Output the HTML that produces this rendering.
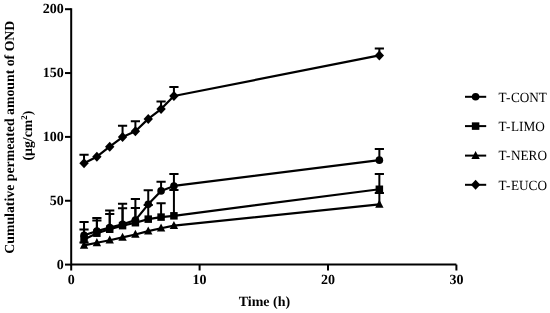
<!DOCTYPE html>
<html><head><meta charset="utf-8"><style>
html,body{margin:0;padding:0;background:#fff;width:550px;height:313px;overflow:hidden;}
svg{display:block;will-change:transform;} text{text-rendering:geometricPrecision;}
</style></head><body><svg width="550" height="313" viewBox="0 0 550 313"><g stroke="#000" stroke-width="2.0" fill="none"><path d="M71.20 8.2V264.60H456.40" /><path d="M65 264.60H71.20"/><path d="M65 200.75H71.20"/><path d="M65 136.90H71.20"/><path d="M65 73.05H71.20"/><path d="M65 9.20H71.20"/><path d="M71.20 264.60V270.5"/><path d="M199.60 264.60V270.5"/><path d="M328.00 264.60V270.5"/><path d="M456.40 264.60V270.5"/></g><g font-family="Liberation Serif, serif" font-weight="bold" font-size="14" fill="#000"><text x="63.8" y="268.80" text-anchor="end">0</text><text x="63.8" y="204.95" text-anchor="end">50</text><text x="63.8" y="141.10" text-anchor="end">100</text><text x="63.8" y="77.25" text-anchor="end">150</text><text x="63.8" y="13.40" text-anchor="end">200</text><text x="71.20" y="284.4" text-anchor="middle">0</text><text x="199.60" y="284.4" text-anchor="middle">10</text><text x="328.00" y="284.4" text-anchor="middle">20</text><text x="456.40" y="284.4" text-anchor="middle">30</text><text x="264.40" y="306.2" text-anchor="middle">Time (h)</text><g transform="translate(14.2 137.2) rotate(-90)"><text x="0" y="0" text-anchor="middle" font-size="13.8">Cumulative permeated amount of OND</text></g><g transform="translate(31.8 135.6) rotate(-90)"><text x="0" y="0" text-anchor="middle" font-size="13.8">(µg/cm<tspan font-size="9" dy="-5">2</tspan><tspan dy="5">)</tspan></text></g></g><polyline points="84.04,245.45 96.88,242.76 109.72,240.21 122.56,237.40 135.40,234.46 148.24,231.14 161.08,228.21 173.92,225.65 379.36,204.45" fill="none" stroke="#000" stroke-width="2.2" stroke-linejoin="round"/><path d="M84.04 245.45V242.51M79.44 242.51H88.64M379.36 204.45V193.09M374.76 193.09H383.96" stroke="#000" stroke-width="2.0" fill="none"/><g fill="#000"><path d="M84.04 240.75L88.24 248.85L79.84 248.85Z"/><path d="M96.88 238.06L101.08 246.16L92.68 246.16Z"/><path d="M109.72 235.51L113.92 243.61L105.52 243.61Z"/><path d="M122.56 232.70L126.76 240.80L118.36 240.80Z"/><path d="M135.40 229.76L139.60 237.86L131.20 237.86Z"/><path d="M148.24 226.44L152.44 234.54L144.04 234.54Z"/><path d="M161.08 223.51L165.28 231.61L156.88 231.61Z"/><path d="M173.92 220.95L178.12 229.05L169.72 229.05Z"/><path d="M379.36 199.75L383.56 207.85L375.16 207.85Z"/></g><polyline points="84.04,239.57 96.88,233.19 109.72,229.23 122.56,225.65 135.40,222.71 148.24,219.14 161.08,217.10 173.92,215.82 379.36,189.26" fill="none" stroke="#000" stroke-width="2.2" stroke-linejoin="round"/><path d="M84.04 239.57V229.61M79.44 229.61H88.64M96.88 233.19V220.42M92.28 220.42H101.48M109.72 229.23V213.90M105.12 213.90H114.32M122.56 225.65V208.28M117.96 208.28H127.16M135.40 222.71V208.03M130.80 208.03H140.00M148.24 219.14V205.09M143.64 205.09H152.84M161.08 217.10V203.18M156.48 203.18H165.68M173.92 215.82V189.90M169.32 189.90H178.52M379.36 189.26V174.06M374.76 174.06H383.96" stroke="#000" stroke-width="2.0" fill="none"/><g fill="#000"><rect x="80.29" y="235.82" width="7.50" height="7.50"/><rect x="93.13" y="229.44" width="7.50" height="7.50"/><rect x="105.97" y="225.48" width="7.50" height="7.50"/><rect x="118.81" y="221.90" width="7.50" height="7.50"/><rect x="131.65" y="218.96" width="7.50" height="7.50"/><rect x="144.49" y="215.39" width="7.50" height="7.50"/><rect x="157.33" y="213.35" width="7.50" height="7.50"/><rect x="170.17" y="212.07" width="7.50" height="7.50"/><rect x="375.61" y="185.51" width="7.50" height="7.50"/></g><polyline points="84.04,235.23 96.88,231.14 109.72,227.57 122.56,224.25 135.40,220.16 148.24,204.33 161.08,190.92 173.92,185.94 379.36,160.14" fill="none" stroke="#000" stroke-width="2.2" stroke-linejoin="round"/><path d="M84.04 235.23V222.08M79.44 222.08H88.64M96.88 231.14V217.99M92.28 217.99H101.48M109.72 227.57V210.58M105.12 210.58H114.32M122.56 224.25V203.81M117.96 203.81H127.16M135.40 220.16V198.96M130.80 198.96H140.00M148.24 204.33V190.28M143.64 190.28H152.84M161.08 190.92V181.72M156.48 181.72H165.68M173.92 185.94V174.06M169.32 174.06H178.52M379.36 160.14V148.90M374.76 148.90H383.96" stroke="#000" stroke-width="2.0" fill="none"/><g fill="#000"><circle cx="84.04" cy="235.23" r="3.8"/><circle cx="96.88" cy="231.14" r="3.8"/><circle cx="109.72" cy="227.57" r="3.8"/><circle cx="122.56" cy="224.25" r="3.8"/><circle cx="135.40" cy="220.16" r="3.8"/><circle cx="148.24" cy="204.33" r="3.8"/><circle cx="161.08" cy="190.92" r="3.8"/><circle cx="173.92" cy="185.94" r="3.8"/><circle cx="379.36" cy="160.14" r="3.8"/></g><polyline points="84.04,163.33 96.88,156.69 109.72,146.73 122.56,137.03 135.40,131.28 148.24,118.89 161.08,109.06 173.92,96.04 379.36,55.43" fill="none" stroke="#000" stroke-width="2.2" stroke-linejoin="round"/><path d="M84.04 163.33V154.78M79.44 154.78H88.64M122.56 137.03V125.79M117.96 125.79H127.16M135.40 131.28V121.32M130.80 121.32H140.00M161.08 109.06V101.53M156.48 101.53H165.68M173.92 96.04V87.10M169.32 87.10H178.52M379.36 55.43V48.40M374.76 48.40H383.96" stroke="#000" stroke-width="2.0" fill="none"/><g fill="#000"><path d="M84.04 158.33L88.74 163.33L84.04 168.33L79.34 163.33Z"/><path d="M96.88 151.69L101.58 156.69L96.88 161.69L92.18 156.69Z"/><path d="M109.72 141.73L114.42 146.73L109.72 151.73L105.02 146.73Z"/><path d="M122.56 132.03L127.26 137.03L122.56 142.03L117.86 137.03Z"/><path d="M135.40 126.28L140.10 131.28L135.40 136.28L130.70 131.28Z"/><path d="M148.24 113.89L152.94 118.89L148.24 123.89L143.54 118.89Z"/><path d="M161.08 104.06L165.78 109.06L161.08 114.06L156.38 109.06Z"/><path d="M173.92 91.04L178.62 96.04L173.92 101.04L169.22 96.04Z"/><path d="M379.36 50.43L384.06 55.43L379.36 60.43L374.66 55.43Z"/></g><path d="M465 96.8H486.2" stroke="#000" stroke-width="2.0"/><g fill="#000"><circle cx="475.60" cy="96.80" r="3.8"/></g><text transform="translate(498.4 101.6) scale(0.945 1)" font-family="Liberation Serif, serif" font-size="14" fill="#000">T<tspan dx="0.7">-</tspan><tspan dx="0.6">CONT</tspan></text><path d="M465 126.1H486.2" stroke="#000" stroke-width="2.0"/><g fill="#000"><rect x="471.85" y="122.35" width="7.50" height="7.50"/></g><text transform="translate(498.4 130.9) scale(0.945 1)" font-family="Liberation Serif, serif" font-size="14" fill="#000">T<tspan dx="0.7">-</tspan><tspan dx="0.6">LIMO</tspan></text><path d="M465 155.6H486.2" stroke="#000" stroke-width="2.0"/><g fill="#000"><path d="M475.60 150.90L479.80 159.00L471.40 159.00Z"/></g><text transform="translate(498.4 160.4) scale(0.945 1)" font-family="Liberation Serif, serif" font-size="14" fill="#000">T<tspan dx="0.7">-</tspan><tspan dx="0.6">NERO</tspan></text><path d="M465 184.8H486.2" stroke="#000" stroke-width="2.0"/><g fill="#000"><path d="M475.60 179.80L480.30 184.80L475.60 189.80L470.90 184.80Z"/></g><text transform="translate(498.4 189.6) scale(0.945 1)" font-family="Liberation Serif, serif" font-size="14" fill="#000">T<tspan dx="0.7">-</tspan><tspan dx="0.6">EUCO</tspan></text></svg></body></html>
